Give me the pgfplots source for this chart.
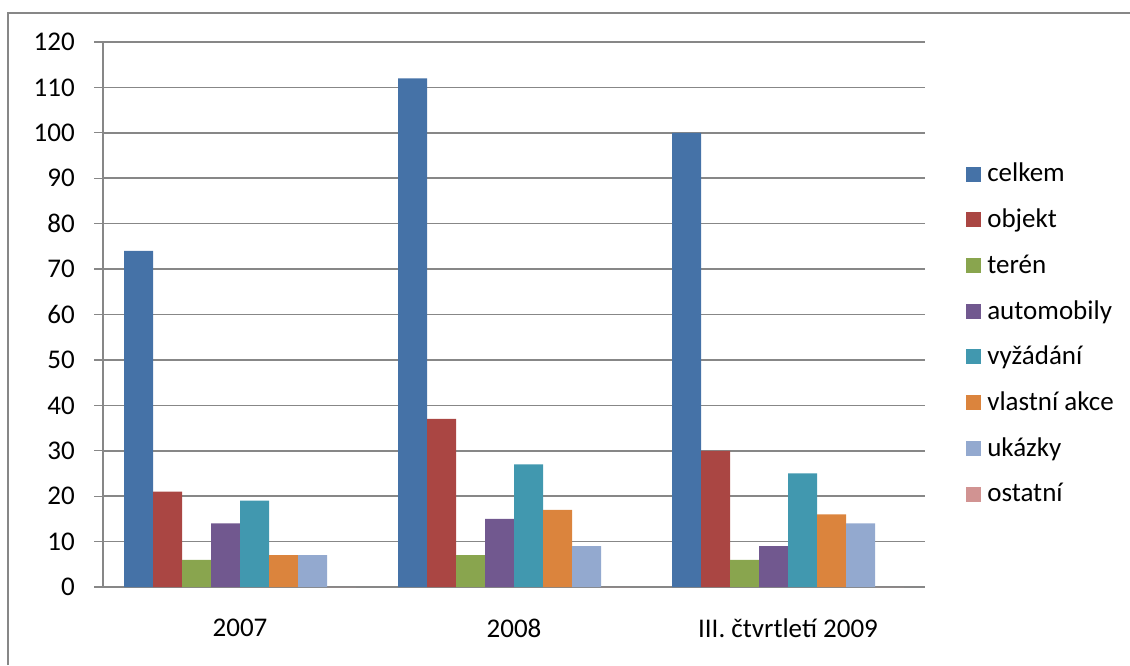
\documentclass[border=0pt]{standalone}
\usepackage{pgfplots}
\pgfplotsset{compat=1.18}
\usepackage{fontspec}
\setmainfont{Carlito}

\definecolor{c1}{HTML}{4572A7}
\definecolor{c2}{HTML}{AA4643}
\definecolor{c3}{HTML}{89A54E}
\definecolor{c4}{HTML}{71588F}
\definecolor{c5}{HTML}{4198AF}
\definecolor{c6}{HTML}{DB843D}
\definecolor{c7}{HTML}{93A9CF}
\definecolor{c8}{HTML}{D19392}
\definecolor{gridgray}{HTML}{878787}

\begin{document}
\fontsize{27}{32}\selectfont
\begin{tikzpicture}[x=1pt,y=1pt]
\useasboundingbox (0,0) rectangle (1130,665);
\draw[gridgray, line width=1.3pt] (8,0) -- (8,652) -- (1130,652);
\begin{axis}[
    at={(103pt,78pt)}, anchor=south west,
    scale only axis,
    width=822pt, height=545pt,
    ybar=0pt, bar width=29pt,
    xmin=-0.5, xmax=2.5,
    ymin=0, ymax=120,
    ytick distance=10,
    xtick={0,1,2},
    xticklabels={2007, 2008, III. čtvrtletí 2009},
    x tick style={draw=none},
    extra x ticks={-0.5,0.5,1.5,2.5},
    extra x tick labels={},
    extra x tick style={grid=none, major tick length=9pt, tick style={draw=gridgray, line width=1.3pt}},
    axis x line*=bottom, axis y line*=left,
    axis line style={gridgray, line width=1.5pt, -},
    tick align=outside,
    major tick length=9pt,
    y tick style={gridgray, line width=1.3pt},
    ymajorgrids=true,
    grid style={gridgray, line width=1.5pt},
    tick label style={font=\fontsize{27}{32}\selectfont, text=black},
    xticklabel style={yshift=-14pt},
    yticklabel style={xshift=-10pt},
    /pgf/number format/assume math mode=true,
    legend style={at={(1.05,0.778)}, anchor=north west, draw=none,
        font=\fontsize{27}{32}\selectfont, row sep=23pt, inner sep=0pt,
        nodes={inner xsep=6pt, inner ysep=0pt}},
    legend cell align=left,
    legend image code/.code={\fill[#1] (0pt,-7pt) rectangle (15pt,8pt);},
]
\addplot[fill=c1, draw=none] coordinates {(0,74) (1,112) (2,100)};
\addlegendentry{celkem}
\addplot[fill=c2, draw=none] coordinates {(0,21) (1,37) (2,30)};
\addlegendentry{objekt}
\addplot[fill=c3, draw=none] coordinates {(0,6) (1,7) (2,6)};
\addlegendentry{terén}
\addplot[fill=c4, draw=none] coordinates {(0,14) (1,15) (2,9)};
\addlegendentry{automobily}
\addplot[fill=c5, draw=none] coordinates {(0,19) (1,27) (2,25)};
\addlegendentry{vyžádání}
\addplot[fill=c6, draw=none] coordinates {(0,7) (1,17) (2,16)};
\addlegendentry{vlastní akce}
\addplot[fill=c7, draw=none] coordinates {(0,7) (1,9) (2,14)};
\addlegendentry{ukázky}
\addplot[fill=c8, draw=none] coordinates {(0,0) (1,0) (2,0)};
\addlegendentry{ostatní}
\end{axis}
\end{tikzpicture}
\end{document}
